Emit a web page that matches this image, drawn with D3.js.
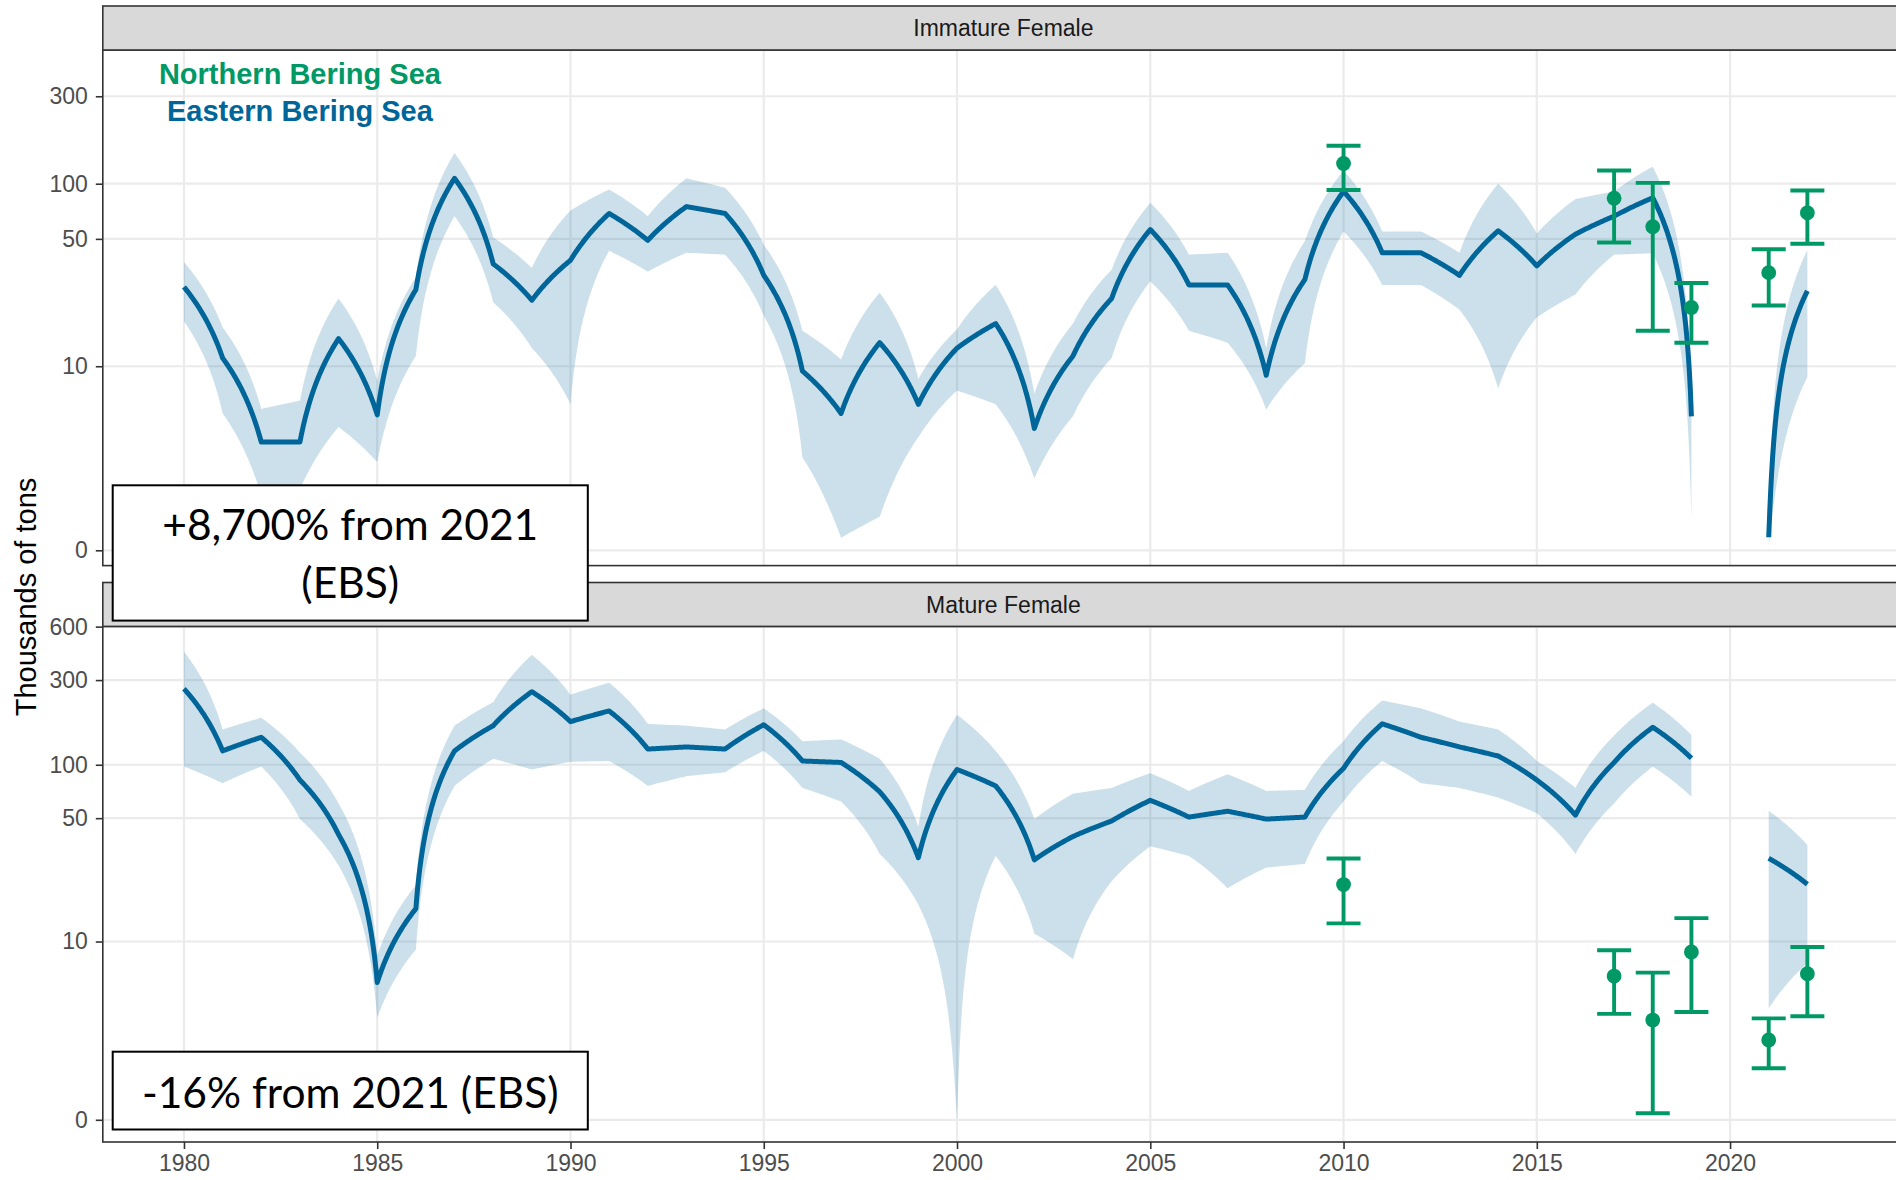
<!DOCTYPE html>
<html><head><meta charset="utf-8">
<script src="https://cdn.jsdelivr.net/npm/d3@7"></script>
<style>body{margin:0;background:#fff;} svg{display:block;}</style>
</head><body>
<svg id="chart" width="1896" height="1180"></svg>
<script>
// ---------------- DATA ----------------
const years = [1980,1981,1982,1983,1984,1985,1986,1987,1988,1989,1990,1991,1992,1993,1994,1995,1996,1997,1998,1999,2000,2001,2002,2003,2004,2005,2006,2007,2008,2009,2010,2011,2012,2013,2014,2015,2016,2017,2018,2019,2020,2021,2022];

// Eastern Bering Sea - Immature Female (thousands of tons)
const immEst = [27.3,11.1,3.64,3.64,14.2,5.3,26.4,107,36.5,23.1,38.2,68.8,49.1,75,68.8,31.6,9.4,5.4,13.5,6.1,12.6,17.2,4.4,11.4,23.6,56.2,28,28,8.9,30,90.8,42,42,31.6,55.3,35.6,53,66.5,83.8,5.2,null,0.33,26];
const immLo  = [17.7,5.4,1.5,1.7,4.5,2.7,11.4,66.5,22.5,12.6,6.1,43,33.1,42,41,19,2.9,0.32,0.87,3.9,7.3,6.1,2.06,5.2,11.1,29.3,15.7,13.5,5.7,10.4,54.9,28,28,20.5,7.5,18.6,24.8,41,41.7,0.8,null,0.1,8.7];
const immHi  = [37.3,16.4,5.74,6.4,23.6,8.3,30.8,147,51,34.7,71.4,93,66.5,107,95,46.4,15.7,10.9,25.4,8.5,16,28,7,17.2,33.9,78.7,41,42,12.6,48.6,118,54.9,54.9,42,100,53.5,82.5,90.8,124,7,null,0.6,43.5];

// Eastern Bering Sea - Mature Female
const matEst = [268,119.7,142.8,82,40.4,5.76,15.4,119.7,166,258,175,201,122.6,126,122.6,168,105,103,70.4,29.9,94,76,29.1,39.4,48.2,63,50.7,54.7,49.4,50.7,95.4,170,142.8,126,112,82,52,103,162.6,108.8,null,29.7,21.2];
const matLo  = [97.7,78.7,97.7,49.4,27,3.5,9,76,108,94,104,105,76,86.2,90.7,119.7,74,62,31.4,16.2,0,30.6,11.1,7.9,22,34.7,30.6,20.1,26.3,27.6,62,105,78.7,74,65.3,53.3,31.4,60.5,97.6,66,null,4,7.5];
const matHi  = [433,158,184,117,60.5,8.3,20.9,166,225,416,248,290,170,166,158,208,135.7,139,108,44.7,191,119.7,49.4,68.7,74,89.7,71.2,88.3,71.2,72.2,135.7,230,208,175,158,105,74,146,223.7,147,null,55,35.3];

// Northern Bering Sea survey points
const nbsYears = [2010,2017,2018,2019,2021,2022];
const nbsImmEst = [129,83.3,58.3,21.1,32.7,69.4];
const nbsImmLo  = [92.4,47.8,15.7,13.5,21.6,47];
const nbsImmHi  = [161,118,101,28.7,43.9,91.8];
const nbsMatEst = [21.1,6.3,3.37,8.7,2.46,6.5];
const nbsMatLo  = [12.7,3.7,0.17,3.8,1.44,3.57];
const nbsMatHi  = [29.6,8.9,6.6,13.6,3.46,9.3];

// Tick labels
const xTicks = [1980,1985,1990,1995,2000,2005,2010,2015,2020];
const yTicksTop = [0,10,50,100,300];
const yTicksBottom = [0,10,50,100,300,600];

const panelTitles = ["Immature Female","Mature Female"];
const legendLabels = ["Northern Bering Sea","Eastern Bering Sea"];
const legendAnchorYear = [1983];
const legendAnchorVals = [400,250];
const noteTexts = [["+8,700% from 2021","(EBS)"],["-16% from 2021 (EBS)"]];

// ---------------- LAYOUT ----------------
const svg = d3.select("#chart");
const BLUE = "#006699", GREEN = "#009966";
const panelLeft = 102.8, panelRight = 1904;
const panels = [
  {stripTop: 6, top: 50, bottom: 565.6, dom: [-0.192, 6.285], ticks: yTicksTop,
   est: immEst, lo: immLo, hi: immHi, nE: nbsImmEst, nL: nbsImmLo, nH: nbsImmHi, title: panelTitles[0]},
  {stripTop: 582.5, top: 626.4, bottom: 1142, dom: [-0.288, 6.40], ticks: yTicksBottom,
   est: matEst, lo: matLo, hi: matHi, nE: nbsMatEst, nL: nbsMatLo, nH: nbsMatHi, title: panelTitles[1]}
];

const x = d3.scaleLinear().domain([1977.9, 2024.5]).range([panelLeft, panelRight]);

// pseudo-log (sigma = 1) scale built on a linear scale in transformed space
const tf = v => Math.asinh(v / 2);
function pseudoLog(lin) {
  const s = v => lin(tf(v));
  s.copy = () => pseudoLog(lin.copy());
  s.range = () => lin.range();
  s.domain = () => lin.domain().map(u => 2 * Math.sinh(u));
  return s;
}

// coord_trans style: straight in data space, then transformed
const NSUB = 40;
function densify(xs, a, b) {
  const out = [];
  for (let i = 0; i < xs.length; i++) {
    if (a[i] == null) { out.push({x: xs[i], a: null, b: null}); continue; }
    out.push({x: xs[i], a: a[i], b: b ? b[i] : null});
    if (i + 1 < xs.length && a[i + 1] != null) {
      for (let k = 1; k < NSUB; k++) {
        const t = k / NSUB;
        out.push({x: xs[i] + t * (xs[i + 1] - xs[i]),
                  a: a[i] + t * (a[i + 1] - a[i]),
                  b: b ? b[i] + t * (b[i + 1] - b[i]) : null});
      }
    }
  }
  return out;
}

const defs = svg.append("defs");

panels.forEach((p, pi) => {
  const y = pseudoLog(d3.scaleLinear().domain(p.dom).range([p.bottom, p.top]));
  const g = svg.append("g");
  const clipId = "clip" + pi;
  defs.append("clipPath").attr("id", clipId).append("rect")
    .attr("x", panelLeft).attr("y", p.top).attr("width", panelRight - panelLeft).attr("height", p.bottom - p.top);

  g.append("rect").attr("x", panelLeft).attr("y", p.top).attr("width", panelRight - panelLeft)
    .attr("height", p.bottom - p.top).attr("fill", "#fff");

  const grid = g.append("g").attr("clip-path", `url(#${clipId})`);
  grid.selectAll("line.gy").data(p.ticks).join("line")
    .attr("x1", panelLeft).attr("x2", panelRight).attr("y1", d => y(d)).attr("y2", d => y(d))
    .attr("stroke", "#EBEBEB").attr("stroke-width", 2.2);
  grid.selectAll("line.gx").data(xTicks).join("line")
    .attr("x1", d => x(d)).attr("x2", d => x(d)).attr("y1", p.top).attr("y2", p.bottom)
    .attr("stroke", "#EBEBEB").attr("stroke-width", 2.2);

  const plot = g.append("g").attr("clip-path", `url(#${clipId})`);

  const rib = densify(years, p.lo, p.hi);
  plot.append("path").datum(rib)
    .attr("d", d3.area().defined(d => d.a != null).x(d => x(d.x)).y0(d => y(d.a)).y1(d => y(d.b)))
    .attr("fill", BLUE).attr("fill-opacity", 0.2);

  const ln = densify(years, p.est);
  plot.append("path").datum(ln)
    .attr("d", d3.line().defined(d => d.a != null).x(d => x(d.x)).y(d => y(d.a)))
    .attr("fill", "none").attr("stroke", BLUE).attr("stroke-width", 5)
    .attr("stroke-linejoin", "round");

  const nb = nbsYears.map((yr, i) => ({yr, e: p.nE[i], l: p.nL[i], h: p.nH[i]}));
  const eb = plot.append("g").attr("stroke", GREEN).attr("stroke-width", 3.9);
  eb.selectAll("line.v").data(nb).join("line")
    .attr("x1", d => x(d.yr)).attr("x2", d => x(d.yr)).attr("y1", d => y(d.l)).attr("y2", d => y(d.h));
  eb.selectAll("line.t").data(nb).join("line")
    .attr("x1", d => x(d.yr) - 17).attr("x2", d => x(d.yr) + 17).attr("y1", d => y(d.h)).attr("y2", d => y(d.h));
  eb.selectAll("line.b").data(nb).join("line")
    .attr("x1", d => x(d.yr) - 17).attr("x2", d => x(d.yr) + 17).attr("y1", d => y(d.l)).attr("y2", d => y(d.l));
  plot.selectAll("circle.nbs").data(nb).join("circle")
    .attr("cx", d => x(d.yr)).attr("cy", d => y(d.e)).attr("r", 7.4).attr("fill", GREEN);

  g.append("rect").attr("x", panelLeft).attr("y", p.top).attr("width", panelRight - panelLeft)
    .attr("height", p.bottom - p.top).attr("fill", "none").attr("stroke", "#333333").attr("stroke-width", 1.6);

  g.append("rect").attr("x", panelLeft).attr("y", p.stripTop).attr("width", panelRight - panelLeft)
    .attr("height", p.top - p.stripTop).attr("fill", "#D9D9D9").attr("stroke", "#333333").attr("stroke-width", 1.6);
  g.append("text").attr("x", (panelLeft + panelRight) / 2).attr("y", (p.stripTop + p.top) / 2)
    .attr("dy", "0.35em").attr("text-anchor", "middle")
    .attr("font-family", "Liberation Sans, Arial, sans-serif").attr("font-size", 23)
    .attr("fill", "#1A1A1A").text(p.title);

  const ax = g.append("g").attr("transform", `translate(${panelLeft},0)`)
    .call(d3.axisLeft(y).tickValues(p.ticks).tickFormat(d3.format("d")).tickSize(7).tickPadding(8));
  ax.select(".domain").remove();
  ax.selectAll(".tick line").attr("stroke", "#333333").attr("stroke-width", 1.6);
  ax.selectAll(".tick text").attr("fill", "#4D4D4D").attr("font-size", 23)
    .attr("font-family", "Liberation Sans, Arial, sans-serif");

  if (pi === 1) {
    const xa = g.append("g").attr("transform", `translate(0,${p.bottom})`)
      .call(d3.axisBottom(x).tickValues(xTicks).tickFormat(d3.format("d")).tickSize(7).tickPadding(6));
    xa.select(".domain").remove();
    xa.selectAll(".tick line").attr("stroke", "#333333").attr("stroke-width", 1.6);
    xa.selectAll(".tick text").attr("fill", "#4D4D4D").attr("font-size", 23)
      .attr("font-family", "Liberation Sans, Arial, sans-serif");
  }

  if (pi === 0) {
    const lg = g.append("g").attr("font-family", "Liberation Sans, Arial, sans-serif")
      .attr("font-weight", "bold").attr("font-size", 29).attr("text-anchor", "middle");
    lg.append("text").attr("x", x(legendAnchorYear[0])).attr("y", y(legendAnchorVals[0])).attr("dy", "0.35em")
      .attr("fill", GREEN).text(legendLabels[0]);
    lg.append("text").attr("x", x(legendAnchorYear[0])).attr("y", y(legendAnchorVals[1])).attr("dy", "0.35em")
      .attr("fill", BLUE).text(legendLabels[1]);
  }
});

svg.append("text").attr("transform", "translate(36,597) rotate(-90)")
  .attr("text-anchor", "middle").attr("font-family", "Liberation Sans, Arial, sans-serif")
  .attr("font-size", 29).attr("fill", "#000").text("Thousands of tons");

const boxes = [
  {x: 112.7, y: 485.3, w: 475.1, h: 135.3, lines: noteTexts[0], base: [539.6, 598]},
  {x: 112.7, y: 1051.7, w: 475.1, h: 77.8, lines: noteTexts[1], base: [1107.7]}
];
boxes.forEach(b => {
  svg.append("rect").attr("x", b.x).attr("y", b.y).attr("width", b.w).attr("height", b.h)
    .attr("fill", "#fff").attr("stroke", "#000").attr("stroke-width", 2);
  b.lines.forEach((t, i) => {
    svg.append("text").attr("x", b.x + b.w / 2).attr("y", b.base[i]).attr("text-anchor", "middle")
      .attr("font-family", "Lato, 'Open Sans', sans-serif").attr("font-size", 42.5).attr("fill", "#000").text(t);
  });
});
</script>
</body></html>
